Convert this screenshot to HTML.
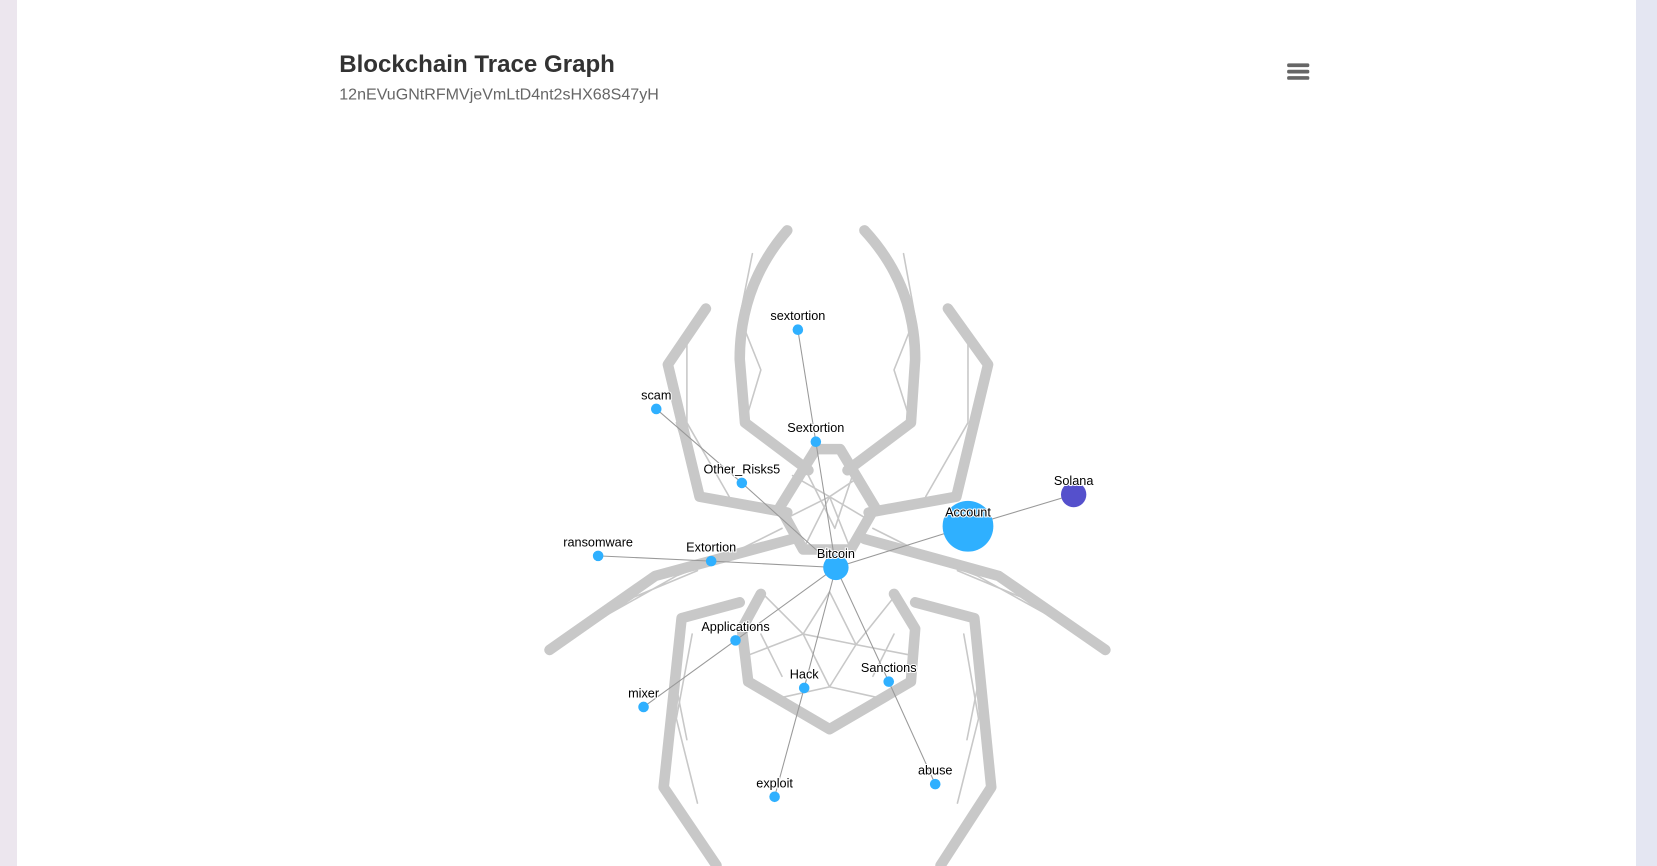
<!DOCTYPE html>
<html><head><meta charset="utf-8"><style>
html,body{margin:0;padding:0;width:1657px;height:866px;overflow:hidden;background:linear-gradient(90deg,#ece6ee,#e4e6f2);font-family:"Liberation Sans",sans-serif}
#card{position:absolute;left:17px;top:0;width:1619px;height:866px;background:#fff}
svg{position:absolute;left:0;top:0}
</style></head><body>
<div id="card"></div>
<svg id="chart" width="1657" height="866" viewBox="0 0 1568 819.5">
<text x="321" y="68" font-size="22.8" font-weight="bold" fill="#333">Blockchain Trace Graph</text>
<text x="321" y="94" font-size="15.2" fill="#666">12nEVuGNtRFMVjeVmLtD4nt2sHX68S47yH</text>
<g fill="#666">
<rect x="1218" y="60" width="21" height="3.5" rx="1.5"/><rect x="1218" y="66" width="21" height="3.5" rx="1.5"/><rect x="1218" y="72" width="21" height="3.5" rx="1.5"/></g>
<g id="spider" fill="none" stroke="#c8c8c8" stroke-linejoin="round" stroke-linecap="round">
<g stroke-width="10">
<path d="M745 218 Q700 270 700 340 L705 400 L765 445"/>
<path d="M818 218 Q866 270 866 340 L862 400 L802 445"/>
<path d="M668 292 L632 345 L662 470 L745 485"/>
<path d="M897 292 L935 345 L905 470 L822 485"/>
<path d="M520 615 L620 545 L750 510"/>
<path d="M1046 615 L945 545 L818 510"/>
<path d="M700 570 L645 585 L628 745 L678 819"/>
<path d="M866 570 L922 585 L938 745 L890 819"/>
<path d="M720 562 L702 595 L708 645 L785 690 L862 645 L866 595 L846 562"/>
<path d="M772 425 L795 425 L828 480 L805 520 L760 520 L738 480 Z"/>
</g>
<g stroke-width="1.5">
<path d="M720 560 L760 600 L785 560 L810 610 L846 565 M708 620 L760 600 L785 650 L810 610 L862 620 M740 660 L785 650 L830 660 M760 600 L810 610"/>
<path d="M750 450 L785 470 L815 450 M745 490 L785 470 L822 492 M760 520 L785 470 L805 520 M760 440 L790 500 L810 440"/>
<path d="M712 240 L700 300 L720 350 L705 400 M855 240 L866 300 L846 350 L862 400 M640 400 L662 470 M925 400 L905 470 M650 320 L650 400 L690 470 M916 320 L916 400 L876 470"/>
<path d="M560 590 L640 545 L680 530 M1006 590 L925 545 L885 530 M640 650 L650 700 M925 650 L915 700 M540 605 L600 565 L660 540 M1026 605 L966 565 L906 540"/>
<path d="M655 600 L640 680 L660 760 M912 600 L926 680 L906 760 M700 520 L740 500 M866 520 L826 500 M720 600 L740 640 M846 600 L826 640"/>
</g></g>
<g id="edges" stroke="#999" stroke-width="1"></g>
<g id="nodes"></g>
</svg>
<script>
const nodeNames=["Bitcoin","Account","Solana","sextortion","scam","Sextortion","Other_Risks5","ransomware","Extortion","Applications","mixer","Hack","Sanctions","exploit","abuse"];
const nodeX=[791,916,1016,755,621,772,702,566,673,696,609,761,841,733,885];
const nodeY=[537,498,468,312,387,418,457,526,531,606,669,651,645,754,742];
const nodeR=[12,24,12,5,5,5,5,5,5,5,5,5,5,5,5];
const nodeColor=["#2fb0ff","#2fb0ff","#5550cc","#2fb0ff","#2fb0ff","#2fb0ff","#2fb0ff","#2fb0ff","#2fb0ff","#2fb0ff","#2fb0ff","#2fb0ff","#2fb0ff","#2fb0ff","#2fb0ff"];
const edgeFrom=[0,1,0,5,0,6,0,8,0,9,0,11,0,12];
const edgeTo=[1,2,5,3,6,4,8,7,9,10,11,13,12,14];
const NS="http://www.w3.org/2000/svg";
const eg=document.getElementById('edges'),ng=document.getElementById('nodes');
for(let i=0;i<edgeFrom.length;i++){
 const l=document.createElementNS(NS,'line');
 l.setAttribute('x1',nodeX[edgeFrom[i]]);l.setAttribute('y1',nodeY[edgeFrom[i]]);
 l.setAttribute('x2',nodeX[edgeTo[i]]);l.setAttribute('y2',nodeY[edgeTo[i]]);
 
 
 eg.appendChild(l);
}
for(let i=0;i<nodeNames.length;i++){
 const c=document.createElementNS(NS,'circle');
 c.setAttribute('cx',nodeX[i]);c.setAttribute('cy',nodeY[i]);c.setAttribute('r',nodeR[i]);c.setAttribute('fill',nodeColor[i]);
 
 
 ng.appendChild(c);
 const t=document.createElementNS(NS,'text');
 t.setAttribute('x',nodeX[i]);t.setAttribute('y',nodeY[i]-9);
 t.setAttribute('text-anchor','middle');t.setAttribute('font-size','12');t.setAttribute('fill','#000');
 t.setAttribute('stroke','#fff');t.setAttribute('stroke-width','2');t.setAttribute('paint-order','stroke');
 t.textContent=nodeNames[i];
 
 
 ng.appendChild(t);
}
</script>
</body></html>
